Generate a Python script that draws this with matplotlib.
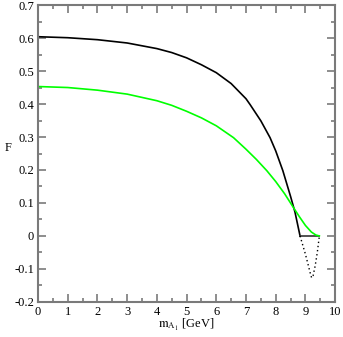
import numpy as np
import matplotlib
matplotlib.use("Agg")
import matplotlib.pyplot as plt
from matplotlib.ticker import MultipleLocator

plt.rcParams["font.family"] = ["Liberation Serif", "DejaVu Serif"]
plt.rcParams["mathtext.fontset"] = "stix"
plt.rcParams["axes.unicode_minus"] = False

# black curve
black_x = [0, 1, 2, 3, 4, 4.5, 5, 5.5, 6, 6.5, 7, 7.14, 7.5, 7.81, 8,
           8.24, 8.5, 8.65, 8.82]
black_y = [0.604, 0.601, 0.595, 0.585, 0.568, 0.556, 0.540, 0.519, 0.495,
           0.462, 0.416, 0.398, 0.349, 0.298, 0.258, 0.198, 0.120, 0.072,
           0.0]

# flat black segment at zero
flat_x = [8.82, 9.47]
flat_y = [0.0, 0.0]

# dotted dip below zero
dip_x = [8.82, 9.0, 9.1, 9.17, 9.21, 9.26, 9.33, 9.40, 9.47]
dip_y = [0.0, -0.055, -0.09, -0.115, -0.127, -0.12, -0.09, -0.05, 0.0]

# green curve
green_x = [0, 1, 2, 3, 4, 4.5, 5, 5.5, 6, 6.58, 7, 7.35, 7.7, 8, 8.3,
           8.57, 8.8, 9.0, 9.2, 9.35, 9.47]
green_y = [0.453, 0.450, 0.442, 0.430, 0.410, 0.396, 0.378, 0.358, 0.334,
           0.298, 0.263, 0.232, 0.198, 0.165, 0.128, 0.090, 0.058, 0.032,
           0.012, 0.003, 0.0]

xticks = list(range(0, 11))
yticks = [-0.2, -0.1, 0, 0.1, 0.2, 0.3, 0.4, 0.5, 0.6, 0.7]

fig = plt.figure(figsize=(3.43, 3.37), dpi=100)
ax = fig.add_axes([0.111, 0.104, 0.866, 0.881])

ax.plot(black_x, black_y, color="black", lw=1.2)
ax.plot(flat_x, flat_y, color="#333333", lw=1.2)
ax.plot(dip_x, dip_y, color="black", lw=1.0, linestyle=(0, (1, 2)))
ax.plot(green_x, green_y, color="#00ff00", lw=1.2)

ax.set_xlim(0, 10)
ax.set_ylim(-0.2, 0.7)
ax.set_xticks(xticks)
ax.set_xticklabels([str(t) for t in xticks])
ax.set_yticks(yticks)
ax.set_yticklabels(["%g" % t for t in yticks])
ax.xaxis.set_minor_locator(MultipleLocator(0.5))
ax.yaxis.set_minor_locator(MultipleLocator(0.05))

for sp in ax.spines.values():
    sp.set_color("#7a7a7a")
    sp.set_linewidth(1.5)

ax.tick_params(which="both", direction="in", top=True, right=True,
               color="#7a7a7a", labelsize=9, width=1.2)
ax.tick_params(which="major", length=6)
ax.tick_params(which="minor", length=3)
ax.tick_params(axis="x", which="major", pad=3)
ax.tick_params(axis="y", which="major", pad=3)

ax.set_xlabel(r"$\mathrm{m}_{\mathrm{A}_1}$ [GeV]", fontsize=9, labelpad=-1)
ax.set_ylabel("F", fontsize=9, rotation=0, labelpad=4)

fig.savefig("out.png", dpi=100)
